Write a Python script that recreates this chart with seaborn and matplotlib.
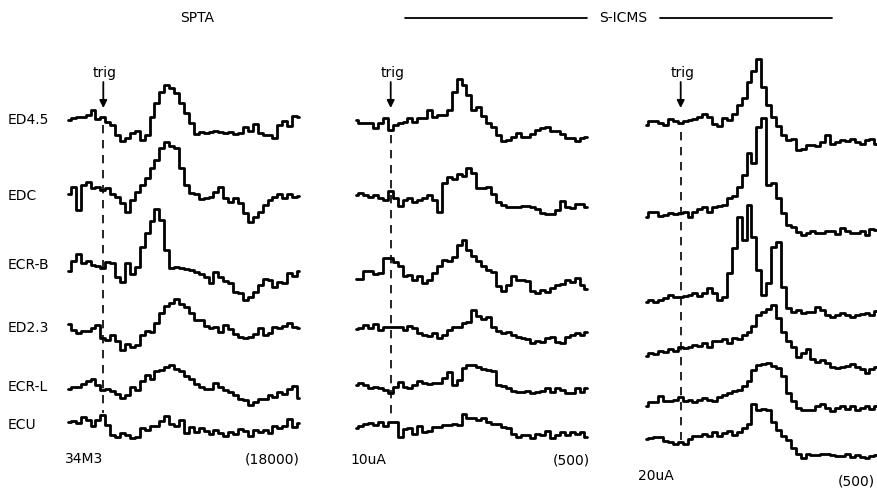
import numpy as np
import pandas as pd
import matplotlib
matplotlib.use("Agg")
import matplotlib.pyplot as plt
import seaborn as sns

# Rectified EMG averages, 48 bins per sweep, trigger near bin 7.6.
# Values are deflections from the pre-trigger level (upward positive).
muscles = ["ED4.5", "EDC", "ECR-B", "ED2.3", "ECR-L", "ECU"]
n_bins = 48
trigger_bin = 7.6

# Spike-triggered averages (cell 34M3, 18000 sweeps)
spta_ed45 = [0, 2, 3, 3, 5, 10, 1, 3, -2, -5, -15, -21, -18, -13, -11, -20,
             -15, 3, 17, 28, 35, 32, 27, 17, 7, -3, -14, -12, -13, -12, -11, -12,
             -13, -12, -14, -13, -7, -11, -4, -13, -15, -15, -18, -5, -1, -6, 4, 3]
spta_edc = [1, 8, -15, 10, 13, 7, 8, 5, 7, 1, -2, -8, -17, -5, 3, 10,
            17, 27, 35, 47, 53, 49, 47, 27, 10, 2, 1, -4, -3, -2, 3, 8,
            -3, -7, -3, -8, -18, -27, -22, -17, -10, -5, -2, 1, -3, 1, -2, -1]
spta_ecrb = [-6, 4, 11, 2, 4, 0, -1, -3, 3, 2, -12, -17, 2, -9, -2, 18,
             32, 44, 56, 45, 15, -3, -2, -3, -4, -5, -7, -9, -12, -18, -7, -12,
             -16, -18, -27, -28, -35, -32, -27, -20, -14, -15, -22, -17, -18, -8, -11, -6]
spta_ed23 = [4, -2, -5, -3, -3, 0, 3, -10, -12, -7, -13, -22, -16, -19, -17, -7,
             -3, -4, 5, 15, 22, 25, 29, 24, 21, 15, 8, 8, 2, 0, 1, -4,
             3, -1, -6, -9, -10, -9, -6, 0, -7, -5, 1, 0, 2, 5, 1, 0]
spta_ecrl = [-2, 0, 0, 3, 6, 8, 2, -3, -2, -4, -7, -11, -8, 0, -3, 6,
             12, 8, 16, 17, 20, 22, 18, 16, 11, 8, 3, 0, -2, -2, 4, 0,
             -3, -5, -8, -12, -13, -18, -15, -12, -12, -8, -10, -5, -7, -2, 1, -11]
spta_ecu = [1, 2, 0, 6, 3, -3, 3, 8, -2, -12, -14, -10, -12, -15, -14, -5,
            -7, -3, -3, 2, 7, -1, -3, 3, -10, -4, -9, -5, -8, -11, -7, -10,
            -13, -9, -11, -6, -8, -13, -7, -9, -7, -10, -3, -5, -3, 4, -4, 0]

# Stimulus-triggered averages at 10 uA (500 sweeps)
icms10_ed45 = [5, 2, 2, 2, -3, 2, 7, -5, 0, 2, 3, 7, 3, 7, 7, 15,
               8, 10, 10, 15, 33, 46, 40, 30, 15, 18, 9, 2, -2, -10, -16, -15,
               -12, -8, -12, -12, -9, -5, -3, -2, -6, -6, -9, -13, -13, -16, -13, -12]
icms10_edc = [0, 2, 0, -2, 0, -3, -5, 4, -3, -11, -5, -3, -7, -5, -3, 0,
              -5, -17, 12, 18, 16, 21, 19, 27, 22, 7, 7, 8, 1, -7, -10, -12,
              -12, -12, -11, -11, -12, -14, -18, -19, -19, -15, -6, -12, -13, -9, -9, -12]
icms10_ecrb = [-1, -1, 7, 7, 4, 5, 20, 20, 16, 12, 2, 3, -2, 2, -5, -2,
               5, 12, 18, 17, 21, 33, 38, 28, 22, 17, 12, 8, 6, -8, -13, -7,
               2, -2, -2, -3, -13, -15, -12, -14, -10, -7, -6, -2, -4, 0, -7, -11]
icms10_ed23 = [-1, 0, 3, 0, 4, -2, 1, 1, 1, 1, -2, 2, 0, -5, -7, -8,
               -5, -10, -7, -2, 1, 1, 5, 6, 18, 12, 9, 11, 1, -3, -5, -4,
               -7, -9, -10, -11, -15, -13, -14, -10, -9, -14, -15, -9, -7, -5, -7, -4]
icms10_ecrl = [0, 2, 0, -3, -2, -3, -5, -8, -2, 3, -2, -3, 0, 4, 2, 1,
               2, 2, 7, 13, 0, 5, 17, 20, 20, 18, 16, 15, 14, 0, -1, -3,
               -6, -7, -7, -6, -8, -7, -6, -3, -7, -3, -5, -8, -8, -3, -7, -3]
icms10_ecu = [-1, 1, 3, 4, 2, 5, 1, 5, 5, -10, -2, -1, -7, 1, -5, -4,
              0, 0, 2, 2, 3, 2, 13, 9, 9, 7, 9, 5, 3, 3, 0, -1,
              -7, -10, -8, -8, -11, -7, -8, -4, -11, -8, -5, -8, -5, -7, -5, -10]

# Stimulus-triggered averages at 20 uA (500 sweeps)
icms20_ed45 = [-2, 2, 2, 0, -2, 4, 2, 0, 2, 3, 4, 6, 9, 6, -1, -3,
               5, 3, 9, 18, 25, 41, 52, 64, 36, 18, 6, -3, -12, -17, -16, -27,
               -26, -22, -22, -23, -19, -12, -21, -19, -17, -18, -16, -19, -21, -17, -16, -21]
icms20_edc = [-2, 3, 3, -1, 0, 2, 1, 2, 3, -2, 3, 6, 8, 3, 8, 9,
              10, 17, 19, 28, 40, 62, 52, 88, 97, 30, 32, 17, 2, -10, -12, -17,
              -20, -18, -16, -18, -18, -16, -16, -19, -13, -16, -18, -18, -16, -20, -14, -15]
icms20_ecrb = [-2, 0, -2, 0, 2, 5, 3, 3, 4, 5, 7, 4, 7, 12, 7, 0,
               3, 27, 52, 83, 60, 95, 63, 30, 5, 17, 53, 58, 13, -8, -12, -10,
               -13, -12, -12, -7, -10, -15, -17, -15, -13, -15, -17, -15, -14, -13, -15, -11]
icms20_ed23 = [-1, 2, 1, 4, 3, 6, 4, 8, 7, 8, 10, 9, 12, 8, 14, 14,
               16, 12, 17, 16, 20, 23, 29, 40, 43, 46, 50, 37, 23, 14, 8, -2,
               2, 6, -4, -7, -5, -8, -12, -13, -12, -11, -9, -12, -14, -18, -14, -12]
icms20_ecrl = [-3, 1, 1, 7, 2, 2, 3, 6, 2, 3, 1, 3, 5, 3, 2, 6,
               8, 10, 12, 13, 17, 22, 33, 38, 39, 40, 37, 35, 27, 10, 2, -5,
               -7, -7, -7, -3, -1, -5, -8, -5, -3, -6, -3, -7, -5, -3, -6, -3]
icms20_ecu = [-1, 0, 1, 1, -3, -4, -6, -4, -6, -1, 2, 2, 4, 2, 6, 2,
              5, 7, 3, 6, 10, 14, 34, 28, 29, 28, 16, 8, 2, -2, -10, -16,
              -20, -16, -17, -17, -16, -16, -17, -18, -18, -16, -19, -17, -19, -20, -18, -17]

panel_traces = [
    [spta_ed45, spta_edc, spta_ecrb, spta_ed23, spta_ecrl, spta_ecu],
    [icms10_ed45, icms10_edc, icms10_ecrb, icms10_ed23, icms10_ecrl, icms10_ecu],
    [icms20_ed45, icms20_edc, icms20_ecrb, icms20_ed23, icms20_ecrl, icms20_ecu],
]

# ---- layout (pixel units on an 878 x 490 canvas) ----
W, H = 878, 490
bin_px = 236 / n_bins
trigger_px = [103.3, 390.7, 680.7]
row_levels = [
    [120, 195, 265, 328, 387, 423],
    [125, 195, 278, 328, 385, 427],
    [123, 215, 300, 355, 403, 438],
]
dash_spans = [(125, 413), (135, 420), (132, 440)]
label_rows = [120, 196, 265, 328, 387, 425]

sns.set_theme(style="white")
plt.rcParams["font.family"] = ["DejaVu Sans"]
plt.rcParams["text.color"] = "black"

fig = plt.figure(figsize=(W / 100, H / 100), dpi=100)
fig.patch.set_facecolor("white")

overlay = fig.add_axes([0, 0, 1, 1])
overlay.set_xlim(0, W)
overlay.set_ylim(H, 0)
overlay.axis("off")

time = np.arange(n_bins) + 0.5 - trigger_bin

for p, traces in enumerate(panel_traces):
    left = trigger_px[p] - trigger_bin * bin_px
    ax = fig.add_axes([left / W, 0, n_bins * bin_px / W, 1])
    ax.patch.set_alpha(0)

    frames = []
    for name, amp, level in zip(muscles, traces, row_levels[p]):
        frames.append(pd.DataFrame({
            "time": time,
            "level": level - np.asarray(amp, dtype=float),
            "muscle": name,
        }))
    df = pd.concat(frames, ignore_index=True)

    sns.lineplot(data=df, x="time", y="level", units="muscle", estimator=None,
                 color="black", lw=2.0, drawstyle="steps-mid", sort=False,
                 legend=False, ax=ax)

    ax.set_xlim(-trigger_bin, n_bins - trigger_bin)
    ax.set_ylim(H, 0)
    ax.axis("off")

    # trigger marker
    ax.annotate("", xy=(0, 108), xytext=(0, 82),
                arrowprops=dict(arrowstyle="-|>", color="black", lw=1.3,
                                mutation_scale=11, shrinkA=0, shrinkB=0))
    ax.text(0.3, 77, "trig", ha="center", va="baseline", fontsize=10,
            color="black")
    y0, y1 = dash_spans[p]
    ax.plot([0, 0], [y0, y1], color="black", lw=1.2, ls=(0, (5, 4)))

# muscle names
for name, y in zip(muscles, label_rows):
    overlay.text(8, y, name, ha="left", va="center", fontsize=10, color="black")

# headings
overlay.text(197, 18, "SPTA", ha="center", va="center", fontsize=10)
overlay.text(623, 18, "S-ICMS", ha="center", va="center", fontsize=10)
overlay.plot([405, 587], [18, 18], color="black", lw=1.3)
overlay.plot([660, 832], [18, 18], color="black", lw=1.3)

# footers
overlay.text(65, 459, "34M3", ha="left", va="center", fontsize=10)
overlay.text(300, 459, "(18000)", ha="right", va="center", fontsize=10)
overlay.text(350, 460, "10uA", ha="left", va="center", fontsize=10)
overlay.text(590, 460, "(500)", ha="right", va="center", fontsize=10)
overlay.text(638, 476, "20uA", ha="left", va="center", fontsize=10)
overlay.text(875, 481, "(500)", ha="right", va="center", fontsize=10)

fig.savefig("out.png", dpi=100, facecolor="white")
